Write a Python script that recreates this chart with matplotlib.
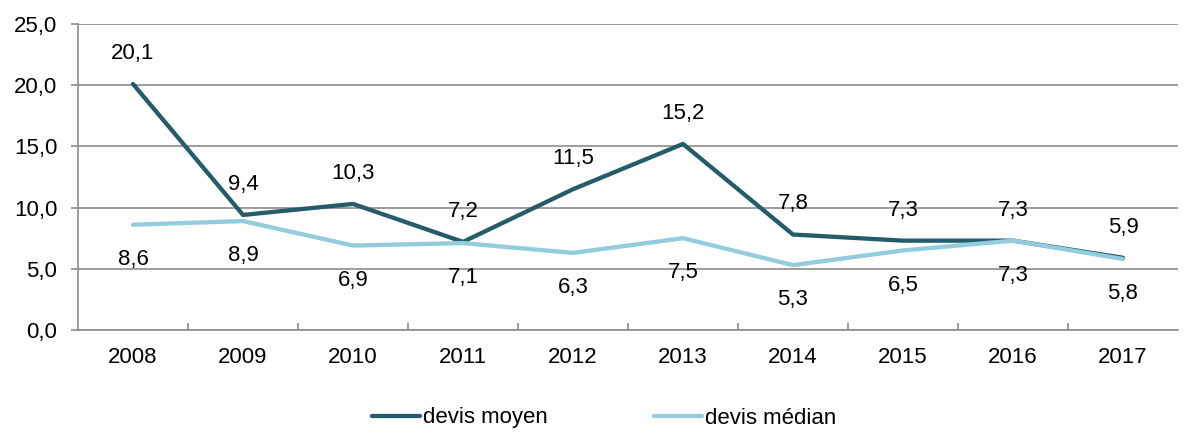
import matplotlib
matplotlib.use("Agg")
import matplotlib.pyplot as plt
from matplotlib.ticker import FixedLocator

years = ["2008", "2009", "2010", "2011", "2012", "2013", "2014", "2015", "2016", "2017"]
devis_moyen = [20.1, 9.4, 10.3, 7.2, 11.5, 15.2, 7.8, 7.3, 7.3, 5.9]
devis_median = [8.6, 8.9, 6.9, 7.1, 6.3, 7.5, 5.3, 6.5, 7.3, 5.8]
y_ticks = [0, 5, 10, 15, 20, 25]

plt.rcParams['font.family'] = ['Liberation Sans', 'DejaVu Sans']
FS = 16

c_dark = "#245c69"
c_light = "#93cddd"
grid_c = "#8c8c8c"

fig = plt.figure(figsize=(11.84, 4.33), dpi=100)
ax = fig.add_axes([78/1184, 1-330/433, 1100/1184, 306/433])

x = list(range(len(years)))
ax.plot(x, devis_moyen, color=c_dark, lw=3.1, label="devis moyen", solid_capstyle='round', zorder=3)
ax.plot(x, devis_median, color=c_light, lw=3.1, label="devis médian", solid_capstyle='round', zorder=3)

fmt = lambda v: f"{v:.1f}".replace(".", ",")
for xi, v in zip(x, devis_moyen):
    ax.annotate(fmt(v), (xi, v), xytext=(0, 22), textcoords="offset points",
                ha="center", va="center", fontsize=FS, color="black")
for xi, v in zip(x, devis_median):
    ax.annotate(fmt(v), (xi, v), xytext=(0, -25), textcoords="offset points",
                ha="center", va="center", fontsize=FS, color="black")

ax.set_xlim(-0.5, len(years) - 0.5)
ax.set_ylim(0, 25)
ax.set_yticks(y_ticks)
ax.set_yticklabels([fmt(t) for t in y_ticks], fontsize=FS)
ax.set_xticks(x)
ax.set_xticklabels(years, fontsize=FS)
ax.tick_params(axis="x", length=0, pad=12)
ax.xaxis.set_minor_locator(FixedLocator([i + 0.5 for i in range(len(years) - 1)]))
ax.tick_params(axis="x", which="minor", direction="in", length=5, color=grid_c, width=1.2)
ax.tick_params(axis="y", length=5, color=grid_c, width=1.2, pad=10)

ax.grid(axis="y", color=grid_c, lw=1.2, zorder=0)
for s in ["top", "right"]:
    ax.spines[s].set_visible(False)
ax.spines["left"].set_color(grid_c)
ax.spines["bottom"].set_color(grid_c)
ax.spines["left"].set_linewidth(1.2)
ax.spines["bottom"].set_linewidth(1.2)

leg = fig.legend(loc="center left", bbox_to_anchor=(372/1184, 1-418/433), ncol=2, frameon=False,
                 fontsize=FS, handlelength=2.16, handletextpad=0.12, columnspacing=4.8,
                 borderpad=0, borderaxespad=0)

fig.savefig("out.png", dpi=100)
